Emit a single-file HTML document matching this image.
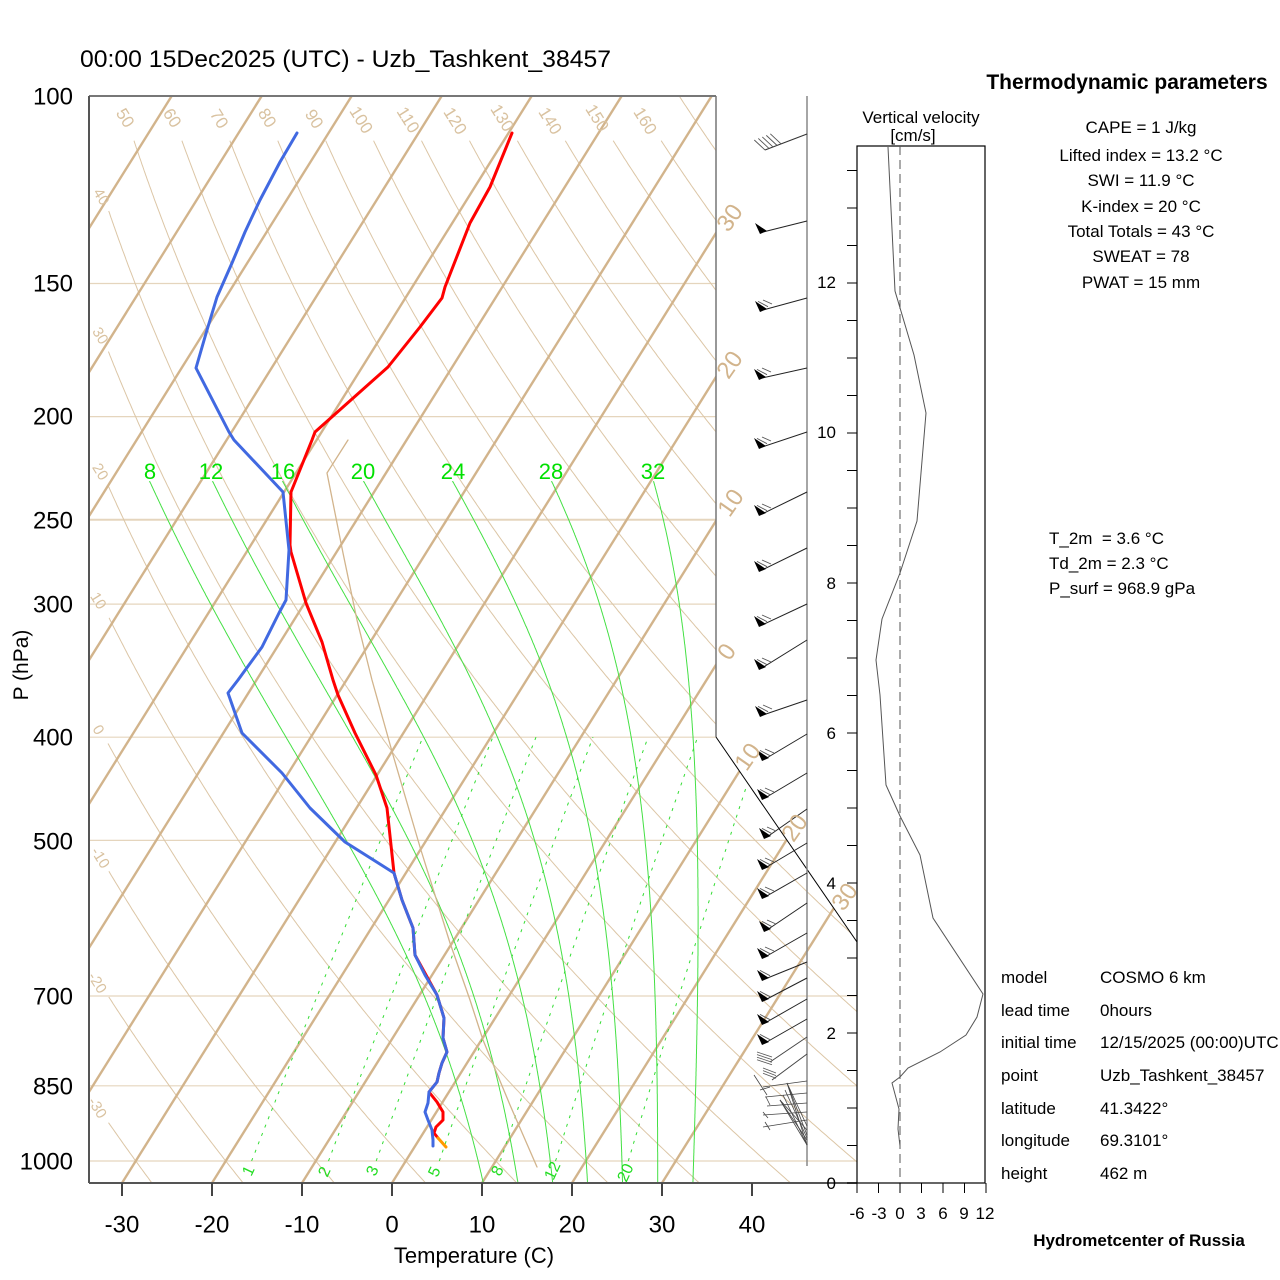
<!DOCTYPE html>
<html><head><meta charset="utf-8"><title>Skew-T Uzb_Tashkent_38457</title>
<style>
html,body{margin:0;padding:0;background:#fff;}
svg{display:block;font-family:"Liberation Sans",Arial,sans-serif;}
</style></head><body>
<svg id="s" width="1280" height="1280" viewBox="0 0 1280 1280" xmlns="http://www.w3.org/2000/svg">
<defs><clipPath id="cp"><polygon points="89,96 716,96 716,737 857,942 857,1183 89,1183"/></clipPath></defs>
<rect width="1280" height="1280" fill="#fff"/>
<g id="grid" clip-path="url(#cp)" fill="none"></g>

<!-- frame -->
<g fill="none">
<line x1="89" y1="96" x2="716" y2="96" stroke="#777" stroke-width="2"/>
<line x1="716" y1="96" x2="716" y2="737" stroke="#777" stroke-width="1.5"/>
<line x1="716" y1="737" x2="857" y2="942" stroke="#000" stroke-width="1"/>
<line x1="89" y1="96" x2="89" y2="1183" stroke="#555" stroke-width="2"/>
<line x1="89" y1="1183" x2="857" y2="1183" stroke="#555" stroke-width="2"/>
<g stroke="#444" stroke-width="2">
<line x1="122" y1="1183" x2="122" y2="1196"/><line x1="212" y1="1183" x2="212" y2="1196"/>
<line x1="302" y1="1183" x2="302" y2="1196"/><line x1="392" y1="1183" x2="392" y2="1196"/>
<line x1="482" y1="1183" x2="482" y2="1196"/><line x1="572" y1="1183" x2="572" y2="1196"/>
<line x1="662" y1="1183" x2="662" y2="1196"/><line x1="752" y1="1183" x2="752" y2="1196"/>
</g>
<line x1="807" y1="96" x2="807" y2="1166" stroke="#888" stroke-width="1.5"/>
</g>

<!-- profiles -->
<g fill="none" stroke-linejoin="round" stroke-linecap="round">
<polyline stroke="#d2b48c" stroke-width="1.3" points="348,440 327,473 343,553 357,620 372,680 393,755 420,847 450,943 470,1000 483,1040 510,1105 537,1167"/>
<polyline stroke="#ff0000" stroke-width="3" points="512,133 490,187 470,223 445,287 442,298 420,327 388,367 315,432 312,440 291,492 290,545 291,552 306,603 322,642 333,680 338,695 355,733 376,775 387,808 394,873 402,900 413,928 415,955 437,995 444,1018 443,1038 447,1052 442,1063 439,1073 437,1082 429,1092 437,1102 443,1112 443,1120 436,1127 434,1133 438,1138"/>
<line x1="438" y1="1138" x2="446" y2="1147" stroke="#ff9a00" stroke-width="3"/>
<polyline stroke="#4169e1" stroke-width="3" points="297,133 280,162 260,200 252,217 245,232 232,263 217,297 207,330 196,368 229,432 234,440 283,492 289,550 286,600 279,613 262,647 238,680 228,693 242,733 282,773 310,808 345,842 394,873 402,900 413,928 415,955 425,975 437,995 444,1018 443,1038 447,1052 442,1063 439,1073 437,1082 429,1092 428,1103 425,1112 428,1120 432,1130 433,1140 433,1146"/>
</g>

<g id="barbs"></g>

<!-- vertical velocity panel -->
<g fill="none">
<rect x="857" y="146" width="128" height="1037" stroke="#000" stroke-width="1.2"/>
<line x1="900" y1="146" x2="900" y2="1183" stroke="#555" stroke-width="1" stroke-dasharray="9,5"/>
<polyline stroke="#555" stroke-width="1" points="888,147 895,291 914,355 926,413 917,521 900,573 882,619 876,660 880,695 886,785 900,816 920,855 933,918 983,994 977,1017 966,1035 940,1052 908,1068 900,1077 892,1083 899,1109 898,1129 900,1146"/>
<g id="vvticks" stroke="#000" stroke-width="1"></g>
</g>

<!-- text -->
<g fill="#000">
<text x="80" y="67" font-size="24.5" textLength="531" lengthAdjust="spacingAndGlyphs">00:00 15Dec2025 (UTC) - Uzb_Tashkent_38457</text>
<g font-size="24" text-anchor="end">
<text x="73" y="104.5">100</text><text x="73" y="291.5">150</text><text x="73" y="424.5">200</text>
<text x="73" y="528.5">250</text><text x="73" y="612.5">300</text><text x="73" y="745.5">400</text>
<text x="73" y="849.5">500</text><text x="73" y="1004.5">700</text><text x="73" y="1094.5">850</text>
<text x="73" y="1169.5">1000</text>
</g>
<text transform="translate(28,665) rotate(-90)" text-anchor="middle" font-size="21">P (hPa)</text>
<g font-size="24" text-anchor="middle">
<text x="122" y="1232.5">-30</text><text x="212" y="1232.5">-20</text><text x="302" y="1232.5">-10</text>
<text x="392" y="1232.5">0</text><text x="482" y="1232.5">10</text><text x="572" y="1232.5">20</text>
<text x="662" y="1232.5">30</text><text x="752" y="1232.5">40</text>
</g>
<text x="474" y="1263" font-size="22" text-anchor="middle">Temperature (C)</text>

<text x="921" y="123" font-size="17" text-anchor="middle">Vertical velocity</text>
<text x="913" y="141" font-size="17" text-anchor="middle">[cm/s]</text>
<g font-size="17" text-anchor="end">
<text x="836" y="1189">0</text><text x="836" y="1039">2</text><text x="836" y="889">4</text>
<text x="836" y="739">6</text><text x="836" y="589">8</text><text x="836" y="438">10</text><text x="836" y="288">12</text>
</g>
<g font-size="17" text-anchor="middle">
<text x="857" y="1219">-6</text><text x="879" y="1219">-3</text><text x="900" y="1219">0</text>
<text x="921" y="1219">3</text><text x="943" y="1219">6</text><text x="964" y="1219">9</text><text x="985" y="1219">12</text>
</g>

<text x="1127" y="89" font-size="21" font-weight="bold" text-anchor="middle">Thermodynamic parameters</text>
<g font-size="17" text-anchor="middle">
<text x="1141" y="133">CAPE = 1 J/kg</text>
<text x="1141" y="161">Lifted index = 13.2 °C</text>
<text x="1141" y="186">SWI = 11.9 °C</text>
<text x="1141" y="212">K-index = 20 °C</text>
<text x="1141" y="237">Total Totals = 43 °C</text>
<text x="1141" y="262">SWEAT = 78</text>
<text x="1141" y="288">PWAT = 15 mm</text>
</g>
<g font-size="17">
<text x="1049" y="544">T_2m&#160;&#160;= 3.6 °C</text>
<text x="1049" y="569">Td_2m = 2.3 °C</text>
<text x="1049" y="594">P_surf = 968.9 gPa</text>
</g>
<g font-size="17">
<text x="1001" y="983">model</text><text x="1100" y="983">COSMO 6 km</text>
<text x="1001" y="1016">lead time</text><text x="1100" y="1016">0hours</text>
<text x="1001" y="1048">initial time</text><text x="1100" y="1048">12/15/2025 (00:00)UTC</text>
<text x="1001" y="1081">point</text><text x="1100" y="1081">Uzb_Tashkent_38457</text>
<text x="1001" y="1114">latitude</text><text x="1100" y="1114">41.3422°</text>
<text x="1001" y="1146">longitude</text><text x="1100" y="1146">69.3101°</text>
<text x="1001" y="1179">height</text><text x="1100" y="1179">462 m</text>
</g>
<text x="1139" y="1246" font-size="17" font-weight="bold" text-anchor="middle">Hydrometcenter of Russia</text>
</g>

<!-- isotherm labels -->
<g fill="#d2b48c" font-size="24" text-anchor="middle" dominant-baseline="central">
<text transform="translate(730,218) rotate(-55)">30</text>
<text transform="translate(730,365) rotate(-55)">20</text>
<text transform="translate(731,503) rotate(-55)">10</text>
<text transform="translate(727,652) rotate(-55)">0</text>
<text transform="translate(748,757) rotate(-55)">10</text>
<text transform="translate(795,828) rotate(-55)">20</text>
<text transform="translate(845,897) rotate(-55)">30</text>
</g>
<!-- dry adiabat labels -->
<g fill="#d9c2a0" font-size="17" text-anchor="middle" dominant-baseline="central">
<text transform="translate(125,118) rotate(58)">50</text>
<text transform="translate(172,118) rotate(58)">60</text>
<text transform="translate(219,119) rotate(58)">70</text>
<text transform="translate(267,118) rotate(58)">80</text>
<text transform="translate(314,119) rotate(58)">90</text>
<text transform="translate(361,120) rotate(58)">100</text>
<text transform="translate(408,120) rotate(58)">110</text>
<text transform="translate(455,121) rotate(58)">120</text>
<text transform="translate(502,118) rotate(58)">130</text>
<text transform="translate(550,121) rotate(58)">140</text>
<text transform="translate(597,118) rotate(58)">150</text>
<text transform="translate(645,121) rotate(58)">160</text>
</g>
<g fill="#d9c2a0" font-size="15" text-anchor="middle" dominant-baseline="central">
<text transform="translate(101,197) rotate(58)">40</text>
<text transform="translate(100,336) rotate(58)">30</text>
<text transform="translate(100,472) rotate(58)">20</text>
<text transform="translate(98,601) rotate(58)">10</text>
<text transform="translate(98,730) rotate(58)">0</text>
<text transform="translate(100,858) rotate(58)">-10</text>
<text transform="translate(97,983) rotate(58)">-20</text>
<text transform="translate(97,1108) rotate(58)">-30</text>
</g>
<!-- moist adiabat labels -->
<g fill="#00e000" font-size="22" text-anchor="middle">
<text x="150" y="479">8</text><text x="211" y="479">12</text><text x="283" y="479">16</text>
<text x="363" y="479">20</text><text x="453" y="479">24</text><text x="551" y="479">28</text><text x="653" y="479">32</text>
</g>
<!-- mixing ratio labels -->
<g fill="#22dd22" font-size="16" text-anchor="middle" dominant-baseline="central">
<text transform="translate(249,1171) rotate(-65)">1</text>
<text transform="translate(325,1172) rotate(-65)">2</text>
<text transform="translate(373,1171) rotate(-65)">3</text>
<text transform="translate(435,1172) rotate(-65)">5</text>
<text transform="translate(498,1171) rotate(-65)">8</text>
<text transform="translate(553,1171) rotate(-65)">12</text>
<text transform="translate(626,1173) rotate(-65)">20</text>
</g>
</svg>
<script>
(function(){
var NS='http://www.w3.org/2000/svg';
var grid=document.getElementById('grid');
var K=0.6253;
function Y(p){return 96+1065*(Math.log(p)/Math.LN10-2);}
function X(T,y){return 392+9*T+K*(1183-y);}
function mk(tag,attrs,parent){var e=document.createElementNS(NS,tag);for(var k in attrs)e.setAttribute(k,attrs[k]);(parent||grid).appendChild(e);return e;}
function pl(pts,attrs,parent){var s=pts.map(function(p){return p[0].toFixed(1)+','+p[1].toFixed(1);}).join(' ');attrs.points=s;attrs.fill=attrs.fill||'none';return mk('polyline',attrs,parent);}

// horizontal pressure lines
[150,200,250,300,400,500,700,850,1000].forEach(function(p){var y=Y(p);pl([[89,y],[860,y]],{stroke:'#e5d5bd','stroke-width':p==250?2:1.2});});

// dry adiabats
for(var th=-30;th<=170;th+=10){
  var pts=[],thK=th+273.15;
  for(var lp=2;lp<=3.03;lp+=0.002){
    var p=Math.pow(10,lp),y=Y(p),T=thK*Math.pow(p/1000,0.2857)-273.15,x=X(T,y);
    if(th<170&&(y<140||x<108))continue;
    pts.push([x,y]);
  }
  if(pts.length>1)pl(pts,{stroke:'#dcc6a6','stroke-width':1});
}

// isotherms
for(var T=-120;T<=30;T+=10){pl([[X(T,1183),1183],[X(T,96),96]],{stroke:'#d2b48c','stroke-width':2.4});}

// moist adiabats
function es(Tc){return 6.112*Math.exp(17.67*Tc/(Tc+243.5));}
function f(T,p){var e=es(T-273.15);var rs=0.622*e/(p-e);return (287.04*T+2.501e6*rs)/(1005.7+2.501e6*2.501e6*rs*0.622/(287.04*T*T));}
var labs=[8,12,16,20,24,28,32],tops=[149,212,282,363,452,551,653];
var lnBot=Math.log(1048.7),lnTop=Math.log(230.2),h=0.002;
labs.forEach(function(th,i){
  var Tb=th+273.15,l=Math.log(1000);
  while(l<lnBot){var p=Math.exp(l);var k1=f(Tb,p);var k2=f(Tb+0.5*h*k1,Math.exp(l+0.5*h));Tb+=h*k2;l+=h;}
  var Tc=Tb;l=lnBot;var raw=[];
  while(l>lnTop){var p2=Math.exp(l);raw.push([p2,Tc]);var a1=f(Tc,p2);var a2=f(Tc-0.5*h*a1,Math.exp(l-0.5*h));Tc-=h*a2;l-=h;}
  raw.push([Math.exp(lnTop),Tc]);
  var xy=raw.map(function(r){var y=Y(r[0]);return [X(r[1]-273.15,y),y];});
  var last=xy[xy.length-1];var dx=tops[i]-last[0];var yt=last[1];
  var pts=xy.map(function(q){var w=(1183-q[1])/(1183-yt);if(w<0)w=0;return [q[0]+dx*w,q[1]];});
  pl(pts,{stroke:'#44e044','stroke-width':1});
});

// mixing ratio lines
[1,2,3,5,8,12,20].forEach(function(w){
  var pts=[];
  for(var p=1000;p>=400;p-=5){var e=w*p/(622+w);var L=Math.log(e/6.112);var Tc=243.5*L/(17.67-L);var y=Y(p);pts.push([X(Tc,y),y]);}
  pl(pts,{stroke:'#33dd33','stroke-width':1,'stroke-dasharray':'3,6'});
});

// wind barbs
var bg=document.getElementById('barbs');
function ln(x1,y1,x2,y2,c,w){mk('line',{x1:x1,y1:y1,x2:x2,y2:y2,stroke:c||'#000','stroke-width':w||1},bg);}
function tri(ex,ey){mk('polygon',{points:(ex-8)+','+(ey-9)+' '+(ex-3)+','+(ey+2)+' '+(ex+4)+','+(ey-1),fill:'#000'},bg);}
ln(807,134,765,150,'#333',1);
for(var i=0;i<5;i++){var bx=765+4*i,by=150-1.54*i;ln(bx,by,bx-10.7,by-10,'#555',0.9);}
var pen=[[221,763,232,0],[298,763,310,2],[368,762,378,2],[432,762,447,2],[492,762,514,2],[548,762,570,2],[604,762,625,2],[640,762,668,2],[700,763,715,2],[734,765,759,2],[773,765,798,2],[809,767,837,2],[843,765,868,2],[873,765,897,2],[903,767,930,2],[933,765,957,2],[962,765,979,1],[978,765,1000,1],[999,765,1023,1],[1019,765,1043,1]];
pen.forEach(function(b){
  ln(807,b[0],b[1],b[2],'#222',1);
  tri(b[1],b[2]);
  var ex=b[1],ey=b[2];
  if(b[3]>=1)ln(ex-5,ey-8.6,ex+5,ey-3.3,'#555',0.9);
  if(b[3]>=2)ln(ex,ey-10,ex+9,ey-6,'#555',0.9);
});
ln(807,1037,770,1062,'#444',1);
for(var j=0;j<4;j++){ln(757,1052+2.6*j,772,1057+2.6*j,'#555',0.8);}
ln(807,1054,772,1080,'#444',1);
for(var j2=0;j2<3;j2++){ln(763,1068+2.6*j2,776,1073+2.6*j2,'#555',0.8);}
var mess=[[807,1081,763,1087],[807,1093,765,1097],[807,1103,767,1106],[807,1112,763,1115],[807,1120,763,1127],
[787,1083,807,1126],[787,1083,807,1135],[787,1083,807,1145],[780,1100,807,1130],[780,1100,807,1140],[780,1100,807,1145],[783,1095,807,1145],[785,1090,807,1138],
[754,1075,767,1095],[760,1090,770,1087],[766,1097,770,1105],[765,1122,770,1130],[763,1112,768,1118]];
mess.forEach(function(m){ln(m[0],m[1],m[2],m[3],'#444',0.8);});

var vt=document.getElementById('vvticks');
for(var n=0;n<=27;n++){var yy=1183-37.5*n;mk('line',{x1:847,y1:yy,x2:857,y2:yy},vt);}
for(var v=-6;v<=12;v+=3){var xx=900+v*7.1667;mk('line',{x1:xx,y1:1183,x2:xx,y2:1193},vt);}
})();
</script>
</body></html>
